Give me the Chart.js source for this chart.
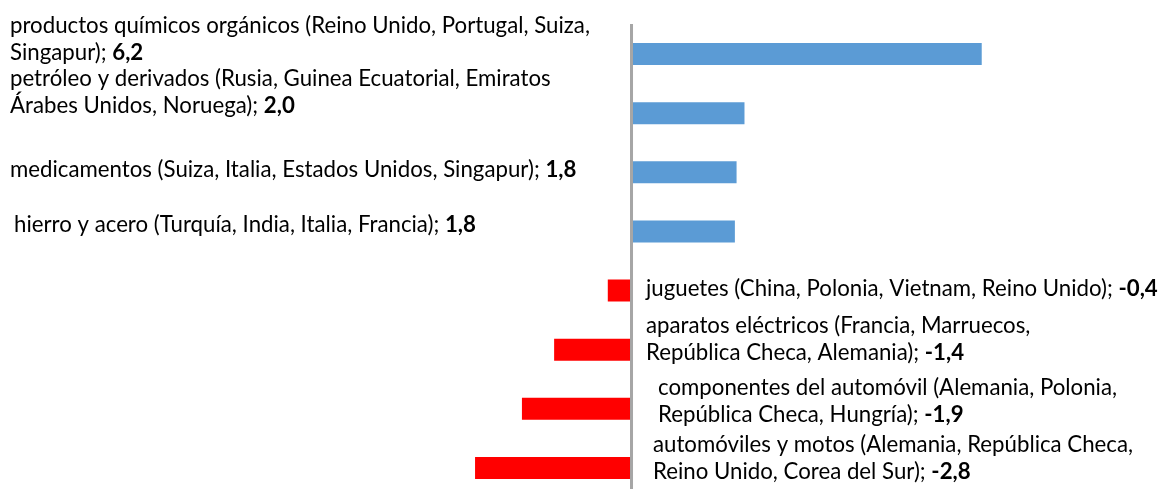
<!DOCTYPE html>
<html>
<head>
<meta charset="utf-8">
<script src="https://cdn.jsdelivr.net/npm/chart.js@4"></script>
<style>
	html, body { margin:0; padding:0; overflow:hidden; background:#fff; }
	#wrap { width:1167px; height:498px; }
</style>
</head>
<body>
<div id="wrap"><canvas id="myChart"></canvas></div>
<script>

var categories = [
	["productos químicos orgánicos (Reino Unido, Portugal, Suiza,", "Singapur)"],
	["petróleo y derivados (Rusia, Guinea Ecuatorial, Emiratos", "Árabes Unidos, Noruega)"],
	["medicamentos (Suiza, Italia, Estados Unidos, Singapur)"],
	["hierro y acero (Turquía, India, Italia, Francia)"],
	["juguetes (China, Polonia, Vietnam, Reino Unido)"],
	["aparatos eléctricos (Francia, Marruecos,", "República Checa, Alemania)"],
	["componentes del automóvil (Alemania, Polonia,", "República Checa, Hungría)"],
	["automóviles y motos (Alemania, República Checa,", "Reino Unido, Corea del Sur)"]
];
var values = [ 6.2, 2.0, 1.86, 1.83, -0.42, -1.37, -1.94, -2.77 ];
var valueLabels = [ "6,2", "2,0", "1,8", "1,8", "-0,4", "-1,4", "-1,9", "-2,8" ];

// manual label placement (left x, first baseline relative to bar centre)
var labelX  = [ 10, 10, 10, 14, 646, 646, 658, 653 ];
var labelDy = [ -21, -27, 5, 1, 5, -17, -14, -16 ];
var lineH = 27;
var fam = "Lato";

var labelsPlugin = {
	id: "labelsPlugin",
	afterDatasetsDraw: (chart)=>{
		var ctx = chart.ctx;
		var meta = chart.getDatasetMeta(0);
		var x0 = chart.scales.x.getPixelForValue(0);

		ctx.save();
		ctx.fillStyle = "#a6a6a6";
		ctx.fillRect( x0-1.5, 24, 3, chart.height );

		ctx.font = "20px " + fam;
		var size = 20 * 580 / ctx.measureText( categories[0][0] ).width;
		var norm = size.toFixed(2) + "px " + fam;
		var bold = "bold " + norm;

		ctx.fillStyle = "#000";
		ctx.textBaseline = "alphabetic";
		ctx.textAlign = "left";
		categories.forEach( (lines,i)=>{
			var y = meta.data[i].y + labelDy[i];
			lines.forEach( (t,k)=>{
				var yy = y + k*lineH;
				ctx.font = norm;
				if( k==lines.length-1 ){
					t = t + "; ";
					ctx.fillText( t, labelX[i], yy );
					var w = ctx.measureText( t ).width;
					ctx.font = bold;
					ctx.fillText( valueLabels[i], labelX[i]+w, yy );
				} else {
					ctx.fillText( t, labelX[i], yy );
				}
			});
		});
		ctx.restore();
	}
};

new Chart("myChart", {
	type: "bar",
	data: {
		labels: categories,
		datasets: [{
			data: values,
			backgroundColor: values.map( v=> v<0 ? "#ff0000" : "#5b9bd5" ),
			barPercentage: 0.372,
			categoryPercentage: 1
		}]
	},
	options: {
		indexAxis: "y",
		responsive: true,
		maintainAspectRatio: false,
		animation: false,
		layout: { padding: { top: 24.5, bottom: 0.5, left: 0, right: 0 } },
		plugins: { legend: {display: false}, tooltip: {enabled: false} },
		scales: {
			x: { display: false, min: -11.18, max: 9.48 },
			y: { display: false }
		}
	},
	plugins: [ labelsPlugin ]
});

</script>
</body>
</html>
